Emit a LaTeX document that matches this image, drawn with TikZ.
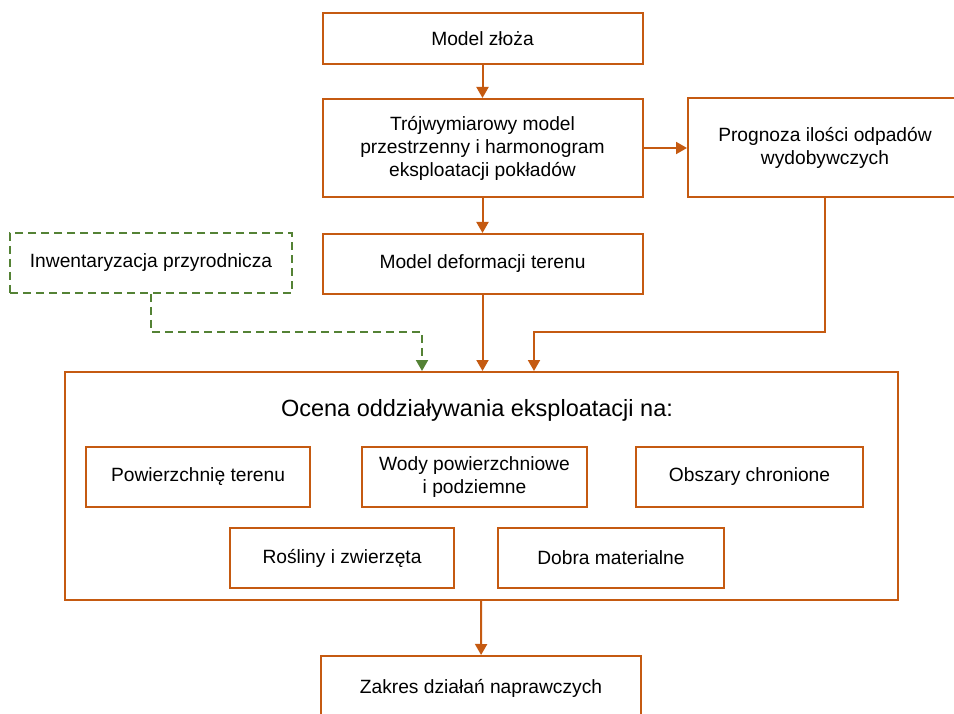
\documentclass[tikz,border=0pt]{standalone}
\usepackage{fontspec}
\setmainfont{Liberation Sans}
\usetikzlibrary{arrows.meta}
\definecolor{rudy}{RGB}{197,90,17}
\definecolor{zielony}{RGB}{84,130,53}
\begin{document}
\begin{tikzpicture}[x=1pt, y=-1pt,
  box/.style={shape=rectangle, draw=rudy, line width=2pt, fill=white, align=center, inner sep=0pt,
    font=\fontsize{19.2}{23}\selectfont},
  dbox/.style={box, draw=zielony, dash pattern=on 8pt off 5pt},
  link/.style={-{Triangle[width=12pt, length=11pt]}, line width=2pt, draw=rudy},
  dlink/.style={link, draw=zielony, dash pattern=on 8pt off 5pt}]
\useasboundingbox (0,0) rectangle (954,714);
\clip (0,0) rectangle (954,714);
\node[box, minimum width=320pt, minimum height=51pt] (zloze) at (482.5,38.5) {Model złoża};
\node[box, minimum width=320pt, minimum height=98pt] (model3d) at (482.5,148) {Trójwymiarowy model\\przestrzenny i harmonogram\\eksploatacji pokładów};
\node[box, minimum width=274pt, minimum height=99pt] (prognoza) at (825,148) {Prognoza ilości odpadów\\wydobywczych};
\node[box, minimum width=320pt, minimum height=60pt] (deform) at (482.5,264) {Model deformacji terenu};
\node[dbox, minimum width=282pt, minimum height=60pt] (inwent) at (151,263) {Inwentaryzacja przyrodnicza};
\node[box, minimum width=833pt, minimum height=228pt] (ocena) at (481.5,486) {};
\node[font=\fontsize{23.5}{28}\selectfont] (tytul) at (477,410) {Ocena oddziaływania eksploatacji na:};
\node[box, minimum width=224pt, minimum height=60pt] (pow) at (198,477) {Powierzchnię terenu};
\node[box, minimum width=225pt, minimum height=60pt] (wody) at (474.5,477) {Wody powierzchniowe\\i podziemne};
\node[box, minimum width=227pt, minimum height=60pt] (obszary) at (749.5,477) {Obszary chronione};
\node[box, minimum width=224pt, minimum height=60pt] (rosliny) at (342,558) {Rośliny i zwierzęta};
\node[box, minimum width=226pt, minimum height=60pt] (dobra) at (611,558) {Dobra materialne};
\node[box, minimum width=320pt, minimum height=64pt] (zakres) at (481,688) {Zakres działań naprawczych};
\coordinate (pkt1) at (534,332);
\coordinate (pkt2) at (422,332);
\draw[link] (zloze) -- (model3d);
\draw[link] (model3d) -- (deform);
\draw[link] (model3d) -- (prognoza);
\draw[link] (deform.south) -- (deform.south |- ocena.north);
\draw[link] (prognoza.south) |- (pkt1) -- (pkt1 |- ocena.north);
\draw[dlink] (inwent.south) |- (pkt2) -- (pkt2 |- ocena.north);
\draw[link] (ocena) -- (zakres);
\end{tikzpicture}
\end{document}
